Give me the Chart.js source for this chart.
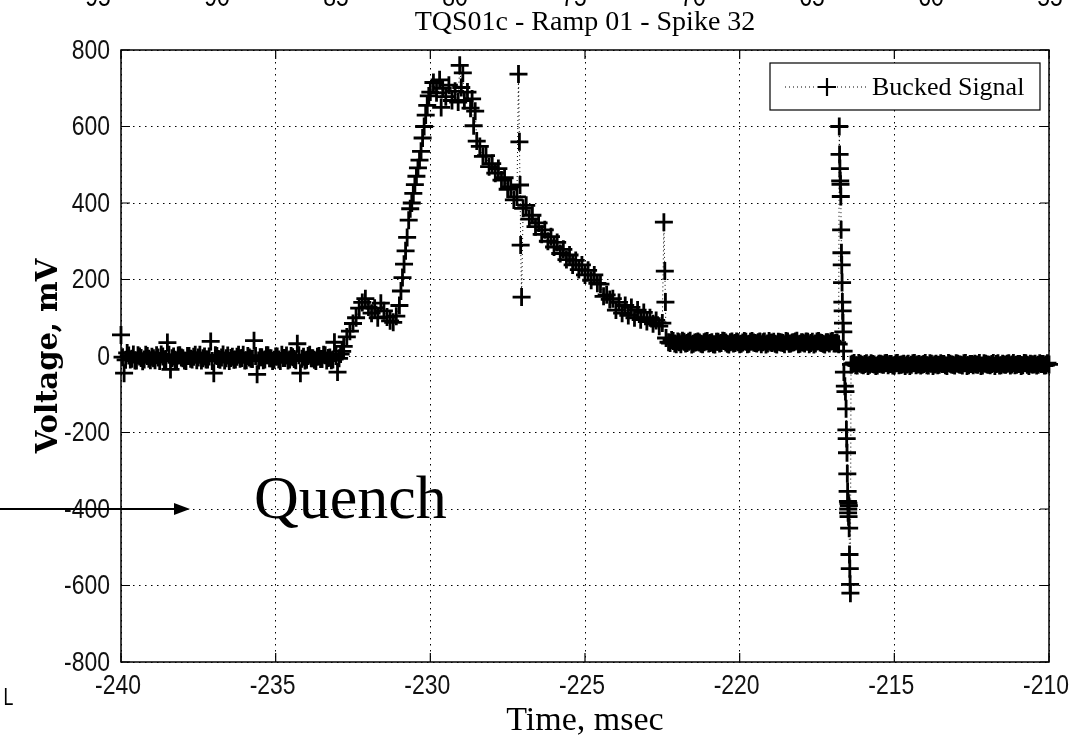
<!DOCTYPE html>
<html>
<head>
<meta charset="utf-8">
<script src="https://cdn.jsdelivr.net/npm/chart.js@4/dist/chart.umd.min.js"></script>
<style>
  html, body { margin: 0; padding: 0; background: #fff; }
  #c { display: block; }
</style>
</head>
<body>
<canvas id="c" width="1083" height="738"></canvas>
<script>
// axis ticks
var xTicks = [-240, -235, -230, -225, -220, -215, -210];
var yTicks = [-800, -600, -400, -200, 0, 200, 400, 600, 800];
var topLabels = ['95', '90', '85', '80', '75', '70', '65', '60', '55'];

// flat part before the event
var baseTimes = [
  -240.0,-239.9,-239.8,-239.7,-239.6,-239.5,-239.4,-239.3,-239.2,-239.1,
  -239.0,-238.9,-238.8,-238.7,-238.6,-238.5,-238.4,-238.3,-238.2,-238.1,
  -238.0,-237.9,-237.8,-237.7,-237.6,-237.5,-237.4,-237.3,-237.2,-237.1,
  -237.0,-236.9,-236.8,-236.7,-236.6,-236.5,-236.4,-236.3,-236.2,-236.1,
  -236.0,-235.9,-235.8,-235.7,-235.6,-235.5,-235.4,-235.3,-235.2,-235.1,
  -235.0,-234.9,-234.8,-234.7,-234.6,-234.5,-234.4,-234.3,-234.2,-234.1,
  -234.0,-233.9,-233.8,-233.7,-233.6,-233.5,-233.4,-233.3,-233.2,-233.1,
  -233.0,-232.9
];
var baseVolts = [
  55,-45,8,-9,4,-12,-1,-14,3,-7,
  -2,-11,-4,4,-9,35,-35,-1,-12,2,
  -6,-13,0,-9,3,-4,-12,-1,-9,38,
  -45,0,-10,4,-6,-13,-2,-9,3,-5,
  -12,0,-7,40,-48,-3,-11,2,-6,-13,
  -1,-9,3,-5,-12,0,-8,32,-45,-2,
  -10,3,-6,-13,0,-8,2,-5,-11,36,
  -42,5
];
// in-between samples of the flat part
var baseMidTimes = [
  -239.95,-239.85,-239.75,-239.65,-239.55,-239.45,-239.35,-239.25,-239.15,-239.05,
  -238.95,-238.85,-238.75,-238.65,-238.55,-238.45,-238.35,-238.25,-238.15,-238.05,
  -237.95,-237.85,-237.75,-237.65,-237.55,-237.45,-237.35,-237.25,-237.15,-237.05,
  -236.95,-236.85,-236.75,-236.65,-236.55,-236.45,-236.35,-236.25,-236.15,-236.05,
  -235.95,-235.85,-235.75,-235.65,-235.55,-235.45,-235.35,-235.25,-235.15,-235.05,
  -234.95,-234.85,-234.75,-234.65,-234.55,-234.45,-234.35,-234.25,-234.15,-234.05,
  -233.95,-233.85,-233.75,-233.65,-233.55,-233.45,-233.35,-233.25,-233.15,-233.05,
  -232.95,-232.85
];
var baseMidVolts = [
  -3,-10,1,-7,-12,2,-5,-9,0,-11,
  -6,2,-13,-1,-8,3,-6,-10,1,-4,
  -12,0,-7,-2,-11,3,-6,-9,-1,-13,
  2,-8,-4,-12,1,-5,-10,-2,-7,3,
  -11,-4,-8,0,-12,-3,-9,2,-6,-10,
  -1,-13,-5,1,-9,-3,-11,2,-7,-12,
  0,-6,-10,-2,-8,3,-12,-4,-9,0,
  -6,12
];

// hump, rise and peak
var riseTimes = [
  -232.8,-232.7,-232.6,-232.5,-232.4,-232.3,-232.2,-232.1,-232.0,-231.9,
  -231.8,-231.7,-231.6,-231.5,-231.4,-231.3,-231.2,-231.1,-231.0,-230.95,
  -230.9,-230.85,-230.8,-230.75,-230.7,-230.65,-230.6,-230.55,-230.5,-230.45,
  -230.4,-230.35,-230.3,-230.25,-230.2,-230.15,-230.1,-230.05,-230.0,-229.9,
  -229.8,-229.7,-229.65,-229.6,-229.5,-229.4,-229.3,-229.2,-229.1,-229.05,
  -229.0,-228.95,-228.9,-228.8,-228.7,-228.65,-228.6,-228.55,-228.5
];
var riseVolts = [
  25,50,65,85,100,125,140,150,128,112,
  125,100,138,118,102,92,88,104,132,170,
  205,240,275,310,355,385,400,425,448,470,
  492,512,535,570,600,630,655,680,690,715,
  688,722,650,700,678,708,668,692,664,760,
  702,740,668,690,648,672,602,640,562
];

// decay down to the step
var fallTimes = [
  -228.4,-228.3,-228.2,-228.1,-228.0,-227.9,-227.8,-227.7,-227.6,-227.5,
  -227.4,-227.3,-227.2,-227.15,-227.12,-227.1,-227.08,-227.05,-227.0,-226.9,
  -226.8,-226.7,-226.6,-226.5,-226.4,-226.3,-226.2,-226.1,-226.0,-225.9,
  -225.8,-225.7,-225.6,-225.5,-225.4,-225.3,-225.2,-225.1,-225.0,-224.9,
  -224.8,-224.7,-224.6,-224.5,-224.4,-224.3,-224.2,-224.1,-224.0,-223.9,
  -223.8,-223.7,-223.6,-223.5,-223.4,-223.3,-223.2,-223.1,-223.0,-222.9,
  -222.8,-222.7,-222.6,-222.5,-222.45,-222.42,-222.4,-222.38
];
var fallVolts = [
  548,522,524,495,503,478,490,460,466,436,
  442,408,416,737,560,447,290,154,386,394,
  358,368,338,348,318,330,300,312,285,297,
  268,279,252,264,238,250,226,238,212,224,
  198,212,190,188,156,160,148,150,120,140,
  112,132,106,127,100,120,95,114,90,100,
  84,93,78,86,350,222,141,47
];

// level stretch before the quench
var plateauTimes = [
  -222.3,-222.2,-222.1,-222.0,-221.9,-221.8,-221.7,-221.6,-221.5,-221.4,
  -221.3,-221.2,-221.1,-221.0,-220.9,-220.8,-220.7,-220.6,-220.5,-220.4,
  -220.3,-220.2,-220.1,-220.0,-219.9,-219.8,-219.7,-219.6,-219.5,-219.4,
  -219.3,-219.2,-219.1,-219.0,-218.9,-218.8,-218.7,-218.6,-218.5,-218.4,
  -218.3,-218.2,-218.1,-218.0,-217.9,-217.8,-217.7,-217.6,-217.5,-217.4,
  -217.3,-217.2,-217.1,-217.0,-216.9,-216.8
];
var plateauVolts = [
  36,42,33,38,31,37,34,40,32,36,
  35,31,38,33,36,30,37,34,39,32,
  36,33,38,31,35,37,32,39,34,36,
  31,38,33,35,37,30,36,34,39,32,
  35,38,31,36,33,37,34,30,38,35,
  32,36,33,39,34,31
];
var plateauMidTimes = [
  -222.25,-222.15,-222.05,-221.95,-221.85,-221.75,-221.65,-221.55,-221.45,-221.35,
  -221.25,-221.15,-221.05,-220.95,-220.85,-220.75,-220.65,-220.55,-220.45,-220.35,
  -220.25,-220.15,-220.05,-219.95,-219.85,-219.75,-219.65,-219.55,-219.45,-219.35,
  -219.25,-219.15,-219.05,-218.95,-218.85,-218.75,-218.65,-218.55,-218.45,-218.35,
  -218.25,-218.15,-218.05,-217.95,-217.85,-217.75,-217.65,-217.55,-217.45,-217.35,
  -217.25,-217.15,-217.05,-216.95,-216.85
];
var plateauMidVolts = [
  34,39,31,36,40,33,37,30,35,38,
  32,36,39,34,31,37,33,40,35,30,
  38,34,36,32,39,31,37,35,33,38,
  36,30,39,34,32,37,35,31,38,33,
  36,40,32,35,38,31,37,33,39,34,
  30,36,38,33,35
];

// the quench spike
var quenchTimes = [
  -216.78,-216.77,-216.76,-216.75,-216.74,-216.73,-216.72,-216.71,-216.7,-216.69,
  -216.68,-216.67,-216.66,-216.65,-216.64,-216.63,-216.6,-216.58,-216.56,-216.55,
  -216.54,-216.53,-216.52,-216.51,-216.5,-216.495,-216.49,-216.485,-216.48,-216.47,
  -216.46,-216.45,-216.44,-216.43,-216.42
];
var quenchVolts = [
  600,527,490,458,449,417,330,270,238,192,
  141,118,86,63,13,-42,-79,-93,-138,-193,
  -216,-253,-308,-354,-380,-410,-400,-385,-420,-391,
  -450,-519,-556,-597,-620
];

// after the quench
var tailTimes = [
  -216.4,-216.3,-216.2,-216.1,-216.0,-215.9,-215.8,-215.7,-215.6,-215.5,
  -215.4,-215.3,-215.2,-215.1,-215.0,-214.9,-214.8,-214.7,-214.6,-214.5,
  -214.4,-214.3,-214.2,-214.1,-214.0,-213.9,-213.8,-213.7,-213.6,-213.5,
  -213.4,-213.3,-213.2,-213.1,-213.0,-212.9,-212.8,-212.7,-212.6,-212.5,
  -212.4,-212.3,-212.2,-212.1,-212.0,-211.9,-211.8,-211.7,-211.6,-211.5,
  -211.4,-211.3,-211.2,-211.1,-211.0,-210.9,-210.8,-210.7,-210.6,-210.5,
  -210.4,-210.3,-210.2,-210.1,-210.0
];
var tailVolts = [
  -22,-18,-25,-20,-24,-19,-23,-21,-26,-20,
  -22,-19,-24,-21,-25,-18,-23,-20,-22,-26,
  -19,-24,-21,-23,-18,-25,-20,-22,-24,-19,
  -21,-26,-20,-23,-19,-22,-25,-18,-24,-21,
  -20,-23,-26,-19,-22,-24,-18,-21,-25,-20,
  -23,-19,-22,-24,-21,-26,-18,-23,-20,-22,
  -25,-19,-21,-24,-22
];
var tailMidTimes = [
  -216.35,-216.25,-216.15,-216.05,-215.95,-215.85,-215.75,-215.65,-215.55,-215.45,
  -215.35,-215.25,-215.15,-215.05,-214.95,-214.85,-214.75,-214.65,-214.55,-214.45,
  -214.35,-214.25,-214.15,-214.05,-213.95,-213.85,-213.75,-213.65,-213.55,-213.45,
  -213.35,-213.25,-213.15,-213.05,-212.95,-212.85,-212.75,-212.65,-212.55,-212.45,
  -212.35,-212.25,-212.15,-212.05,-211.95,-211.85,-211.75,-211.65,-211.55,-211.45,
  -211.35,-211.25,-211.15,-211.05,-210.95,-210.85,-210.75,-210.65,-210.55,-210.45,
  -210.35,-210.25,-210.15,-210.05
];
var tailMidVolts = [
  -20,-24,-18,-23,-21,-26,-19,-22,-25,-20,
  -23,-18,-21,-25,-19,-24,-22,-26,-20,-23,
  -18,-22,-25,-21,-24,-19,-26,-20,-23,-21,
  -24,-18,-22,-25,-20,-23,-19,-26,-21,-24,
  -22,-18,-25,-20,-23,-21,-26,-19,-24,-22,
  -20,-25,-18,-23,-21,-24,-19,-26,-22,-20,
  -23,-21,-25,-19
];

var times = baseTimes.concat(baseMidTimes, riseTimes, fallTimes, plateauTimes, plateauMidTimes,
  quenchTimes, tailTimes, tailMidTimes);
var volts = baseVolts.concat(baseMidVolts, riseVolts, fallVolts, plateauVolts, plateauMidVolts,
  quenchVolts, tailVolts, tailMidVolts);
var points = [];
for (var i = 0; i < times.length; i++) points.push({x: times[i], y: volts[i]});
points.sort(function(p, q) { return p.x - q.x; });

var SERIF = "'Liberation Serif', 'Times New Roman', serif";
var SANS = "'Liberation Sans', Arial, sans-serif";
var SQUEEZE = 0.82; // tick font is a narrow one

function drawCross(ctx, x, y, r) {
  ctx.beginPath();
  ctx.moveTo(x - r, y); ctx.lineTo(x + r, y);
  ctx.moveTo(x, y - r); ctx.lineTo(x, y + r);
  ctx.stroke();
}

function narrowText(ctx, s, x, y, align) {
  ctx.save();
  ctx.translate(x, y);
  ctx.scale(SQUEEZE, 1);
  ctx.textAlign = align;
  ctx.fillText(s, 0, 0);
  ctx.restore();
}

var decor = {
  id: 'decor',
  afterDatasetsDraw: function(chart) {
    var ctx = chart.ctx, a = chart.chartArea;
    var xs = chart.scales.x, ys = chart.scales.y;
    ctx.save();
    ctx.strokeStyle = '#000';
    ctx.lineWidth = 1.5;
    ctx.setLineDash([]);
    ctx.strokeRect(a.left, a.top, a.right - a.left, a.bottom - a.top);
    ctx.lineWidth = 1.2;
    ctx.beginPath();
    xTicks.forEach(function(t) {
      var px = xs.getPixelForValue(t);
      ctx.moveTo(px, a.bottom); ctx.lineTo(px, a.bottom - 9);
      ctx.moveTo(px, a.top); ctx.lineTo(px, a.top + 9);
    });
    yTicks.forEach(function(t) {
      var py = ys.getPixelForValue(t);
      ctx.moveTo(a.left, py); ctx.lineTo(a.left + 9, py);
      ctx.moveTo(a.right, py); ctx.lineTo(a.right - 9, py);
    });
    ctx.stroke();

    // tick labels
    ctx.fillStyle = '#111';
    ctx.font = '28px ' + SANS;
    ctx.textBaseline = 'middle';
    yTicks.forEach(function(t) {
      narrowText(ctx, String(t), a.left - 11, ys.getPixelForValue(t) + 1, 'right');
    });
    ctx.textBaseline = 'alphabetic';
    xTicks.forEach(function(t) {
      narrowText(ctx, String(t), xs.getPixelForValue(t) - 3, a.bottom + 32, 'center');
    });
    ctx.restore();
  },
  afterDraw: function(chart) {
    var ctx = chart.ctx, a = chart.chartArea;
    var cx = (a.left + a.right) / 2;
    ctx.save();
    ctx.fillStyle = '#000';
    ctx.strokeStyle = '#000';

    // cut off numbers at the very top
    ctx.font = '28px ' + SANS;
    ctx.textBaseline = 'alphabetic';
    topLabels.forEach(function(s, i) { narrowText(ctx, s, 98 + i * 119, 6, 'center'); });

    // title
    ctx.textAlign = 'center';
    ctx.font = '28px ' + SERIF;
    ctx.fillText('TQS01c - Ramp 01 - Spike 32', cx, 30);

    // x title
    ctx.font = '34px ' + SERIF;
    ctx.fillText('Time, msec', cx, 730);

    // y title
    ctx.save();
    ctx.translate(57, (a.top + a.bottom) / 2);
    ctx.rotate(-Math.PI / 2);
    ctx.font = "bold 29px 'DejaVu Serif', serif";
    ctx.fillText('Voltage, mV', 0, 0);
    ctx.restore();

    // legend
    ctx.fillStyle = '#fff';
    ctx.fillRect(770, 63, 270, 47);
    ctx.lineWidth = 1.2;
    ctx.strokeRect(770, 63, 270, 47);
    ctx.fillStyle = '#000';
    ctx.lineWidth = 1;
    ctx.setLineDash([1, 3]);
    ctx.beginPath(); ctx.moveTo(785, 87); ctx.lineTo(868, 87); ctx.stroke();
    ctx.setLineDash([]);
    ctx.lineWidth = 2.2;
    drawCross(ctx, 827, 87, 9);
    ctx.font = '26px ' + SERIF;
    ctx.textAlign = 'left';
    ctx.textBaseline = 'middle';
    ctx.fillText('Bucked Signal', 872, 88);

    // quench annotation
    var qy = chart.scales.y.getPixelForValue(-400);
    ctx.lineWidth = 2;
    ctx.beginPath(); ctx.moveTo(0, qy); ctx.lineTo(176, qy); ctx.stroke();
    ctx.beginPath();
    ctx.moveTo(190, qy); ctx.lineTo(174, qy - 6); ctx.lineTo(174, qy + 6); ctx.closePath();
    ctx.fill();
    ctx.font = '62px ' + SERIF;
    ctx.textBaseline = 'alphabetic';
    ctx.fillText('Quench', 254, 518);

    // stray letter bottom left
    ctx.font = "24px 'Open Sans', sans-serif";
    narrowText(ctx, 'L', 3, 705, 'left');
    ctx.restore();
  }
};

new Chart(document.getElementById('c').getContext('2d'), {
  type: 'line',
  data: {
    datasets: [{
      label: 'Bucked Signal',
      data: points,
      borderColor: '#000',
      borderWidth: 1,
      borderDash: [1, 3],
      pointStyle: 'cross',
      pointRadius: 9,
      pointBorderWidth: 2.8,
      pointBorderColor: '#000',
      pointBackgroundColor: '#000',
      tension: 0,
      fill: false,
      clip: false
    }]
  },
  options: {
    responsive: false,
    animation: false,
    events: [],
    layout: { padding: { left: 0, right: 34, top: 50, bottom: 0 } },
    plugins: { legend: { display: false }, title: { display: false }, tooltip: { enabled: false } },
    scales: {
      x: {
        type: 'linear',
        min: -240, max: -210,
        afterFit: function(s) { s.height = 76; },
        afterBuildTicks: function(s) { s.ticks = xTicks.map(function(v) { return {value: v}; }); },
        grid: { color: '#000', lineWidth: 1, drawTicks: false },
        border: { display: false, dash: [1.5, 4.5] },
        ticks: { display: false }
      },
      y: {
        type: 'linear',
        min: -800, max: 800,
        afterFit: function(s) { s.width = 121; },
        afterBuildTicks: function(s) { s.ticks = yTicks.map(function(v) { return {value: v}; }); },
        grid: { color: '#000', lineWidth: 1, drawTicks: false },
        border: { display: false, dash: [1.5, 4.5] },
        ticks: { display: false }
      }
    }
  },
  plugins: [decor]
});
</script>
</body>
</html>
